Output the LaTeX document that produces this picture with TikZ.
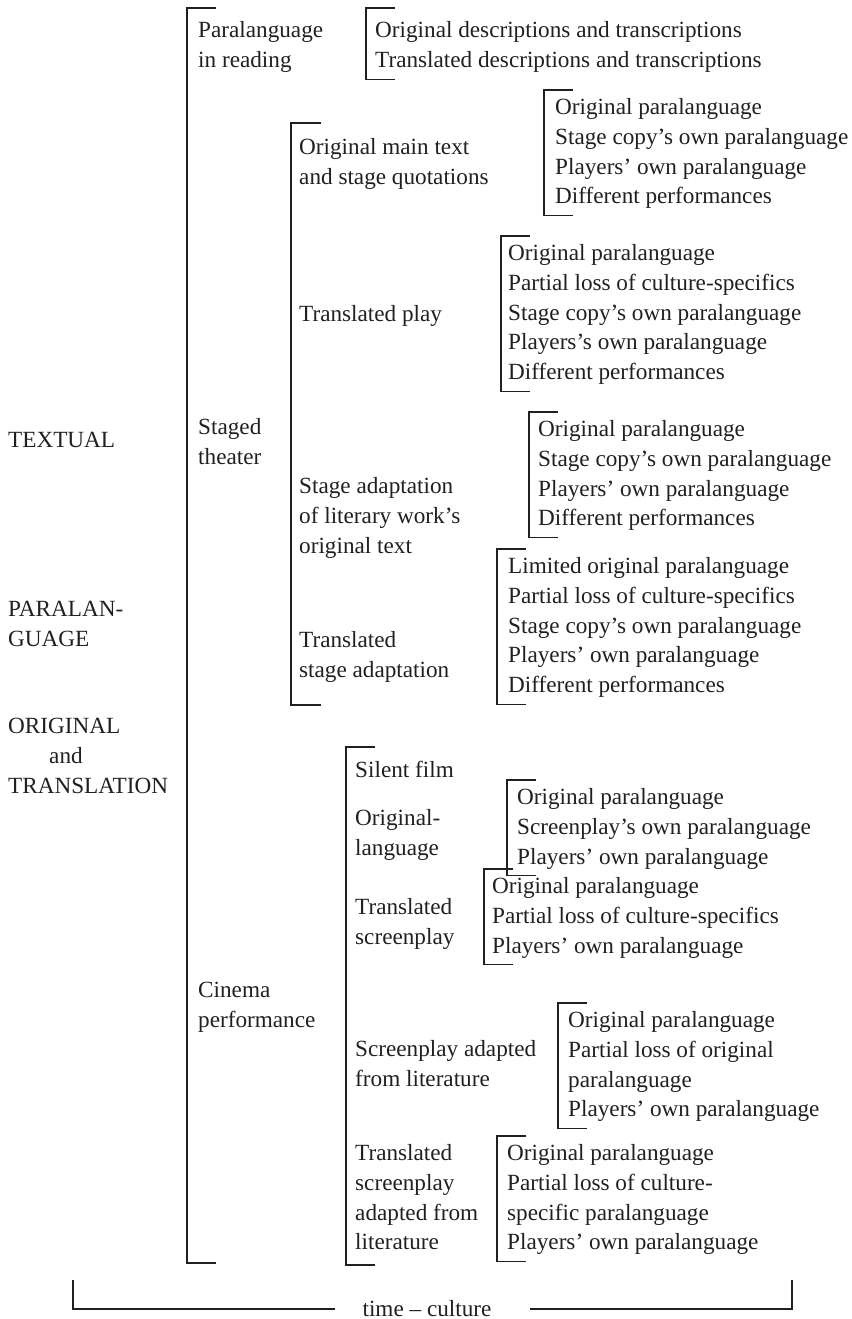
\documentclass[tikz,border=0pt]{standalone}
\usepackage{fontspec}
\setmainfont{Liberation Serif}
\usetikzlibrary{calc}
\definecolor{ink}{HTML}{231F20}

% bracket on the left of a text block:
% [#1] extra rise of the top end, #2 node name, #3 gap between rule and text
\newcommand\sidebracket[3][0]{%
  \draw[brk] ([shift={({(29-#3)*1pt},{(3.7+#1)*1pt})}]#2.north west)
          -- ([shift={(-#3pt,{(3.7+#1)*1pt})}]#2.north west)
          -- ([shift={(-#3pt,-2.6pt)}]#2.south west)
          -- ([shift={({(29-#3)*1pt},-2.6pt)}]#2.south west);}

\begin{document}
\begin{tikzpicture}[x=1pt,y=-1pt,
  every node/.style={inner sep=0pt, anchor=north west, align=left, text=ink,
                     font=\fontsize{23.2}{29.7}\selectfont},
  brk/.style={draw=ink, line width=1.1pt},
]
\useasboundingbox (0,0) rectangle (851,1319);

% left-hand labels
\node (tx) at (8,426.7)  {\strut TEXTUAL};
\node (pg) at (8,595.7)  {\strut PARALAN-\\\strut GUAGE};
\node (ot) at (8,712.7)  {\strut ORIGINAL\\\strut\hspace*{41pt}and\\\strut TRANSLATION};

% first level
\node (pr) at (198,16.7)  {\strut Paralanguage\\\strut in reading};
\node (st) at (198,413.7) {\strut Staged\\\strut theater};
\node (ci) at (198,976.7) {\strut Cinema\\\strut performance};

% reading
\node (pi) at (375,16.7) {\strut Original descriptions and transcriptions\\
                          \strut Translated descriptions and transcriptions};

% staged theater
\node (s1) at (299,133.7) {\strut Original main text\\\strut and stage quotations};
\node (s2) at (299,300.7) {\strut Translated play};
\node (s3) at (299,472.7) {\strut Stage adaptation\\\strut of literary work’s\\\strut original text};
\node (s4) at (299,626.7) {\strut Translated\\\strut stage adaptation};

\node (ia) at (555,93.7) {\strut Original paralanguage\\\strut Stage copy’s own paralanguage\\
                          \strut Players’ own paralanguage\\\strut Different performances};
\node (ib) at (508,239.7) {\strut Original paralanguage\\\strut Partial loss of culture-specifics\\
                           \strut Stage copy’s own paralanguage\\\strut Players’s own paralanguage\\
                           \strut Different performances};
\node (ic) at (538,415.7) {\strut Original paralanguage\\\strut Stage copy’s own paralanguage\\
                           \strut Players’ own paralanguage\\\strut Different performances};
\node (id) at (508,552.7) {\strut Limited original paralanguage\\\strut Partial loss of culture-specifics\\
                           \strut Stage copy’s own paralanguage\\\strut Players’ own paralanguage\\
                           \strut Different performances};

% cinema
\node (c1) at (355,756.7)  {\strut Silent film};
\node (c2) at (355,804.7)  {\strut Original-\\\strut language};
\node (c3) at (355,893.7)  {\strut Translated\\\strut screenplay};
\node (c4) at (355,1035.7) {\strut Screenplay adapted\\\strut from literature};
\node (c5) at (355,1139.7) {\strut Translated\\\strut screenplay\\\strut adapted from\\\strut literature};

\node (jf) at (517,783.7)  {\strut Original paralanguage\\\strut Screenplay’s own paralanguage\\
                            \strut Players’ own paralanguage};
\node (je) at (492,872.7)  {\strut Original paralanguage\\\strut Partial loss of culture-specifics\\
                            \strut Players’ own paralanguage};
\node (jg) at (568,1006.7) {\strut Original paralanguage\\\strut Partial loss of original\\
                            \strut paralanguage\\\strut Players’ own paralanguage};
\node (jh) at (507,1139.7) {\strut Original paralanguage\\\strut Partial loss of culture-\\
                            \strut specific paralanguage\\\strut Players’ own paralanguage};

% axis label
\node[anchor=base] (tc) at (427,1316) {time – culture};

% brackets of the tree levels
\coordinate (mt) at (187,8);    \coordinate (mb) at (187,1263);
\coordinate (tt) at (291,123);  \coordinate (tb) at (291,705);
\coordinate (kt) at (346,747);  \coordinate (kb) at (346,1265);
\draw[brk] ([xshift=29pt]mt) -- (mt) -- (mb) -- ([xshift=29pt]mb);
\draw[brk] ([xshift=30pt]tt) -- (tt) -- (tb) -- ([xshift=30pt]tb);
\draw[brk] ([xshift=29pt]kt) -- (kt) -- (kb) -- ([xshift=29pt]kb);

% brackets of the item lists
\sidebracket[5]{pi}{9}
\sidebracket{ia}{11}
\sidebracket{ib}{7}
\sidebracket{ic}{9}
\sidebracket{id}{11}
\sidebracket{jf}{10}
\sidebracket{je}{8}
\sidebracket{jg}{10}
\sidebracket{jh}{10}

% time - culture axis
\coordinate (bl) at (73,1280);   \coordinate (blc) at (73,1309);
\coordinate (br) at (792,1280);  \coordinate (brc) at (792,1309);
\draw[brk] (bl) -- (blc) -- ([xshift=-27pt]blc -| tc.west);
\draw[brk] (br) -- (brc) -- ([xshift=38pt]brc -| tc.east);
\end{tikzpicture}
\end{document}
